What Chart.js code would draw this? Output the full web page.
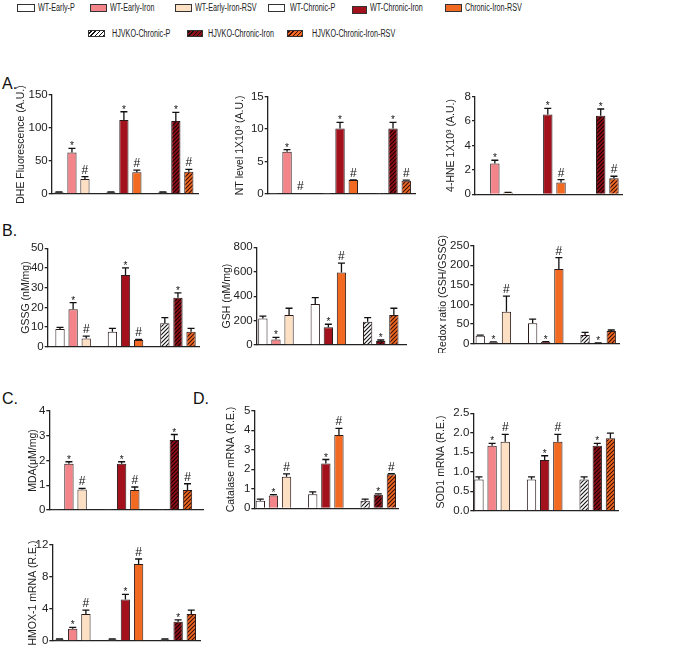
<!DOCTYPE html>
<html>
<head>
<meta charset="utf-8">
<script src="https://cdn.jsdelivr.net/npm/chart.js@4/dist/chart.umd.min.js"></script>
<style>
body { margin: 0; background: #fff; width: 685px; height: 650px; position: relative; overflow: hidden;
       font-family: "Liberation Sans", Arial, sans-serif; }
canvas { position: absolute; }
.lgbox { position: absolute; border: 1px solid #333; box-sizing: border-box; }
.lgtxt { position: absolute; font-size: 10px; line-height: 10px; color: #222; white-space: nowrap;
         transform: scaleX(0.72); transform-origin: left top; }
.plab { position: absolute; font-size: 16px; line-height: 16px; color: #111; }
</style>
</head>
<body>
<div class="plab" style="left:2px;top:76px">A.</div>
<div class="plab" style="left:2px;top:223px">B.</div>
<div class="plab" style="left:2px;top:391px">C.</div>
<div class="plab" style="left:193px;top:391px">D.</div>
<div id="legend"></div>

<script>
// groups in the order they are drawn, and their x slots (gaps at 3 and 7)
const groups = ['WT-Early-P', 'WT-Early-Iron', 'WT-Early-Iron-RSV', 'WT-Chronic-P', 'WT-Chronic-Iron',
                'Chronic-Iron-RSV', 'HJVKO-Chronic-P', 'HJVKO-Chronic-Iron', 'HJVKO-Chronic-Iron-RSV'];
const slots = [0, 1, 2, 4, 5, 6, 8, 9, 10];

const dheMean = [2.5, 63, 22.7, 2.5, 112, 32.8, 2.5, 110.6, 33.8];
const dheErr  = [0.5, 6, 3.5, 0.5, 12.6, 3.5, 0.5, 13, 3.6];
const dheMark = ['', '*', '#', '', '*', '#', '', '*', '#'];
const dheTicks = [0, 50, 100, 150];

const ntMean = [0.03, 6.5, 0.1, 0.03, 10.1, 2.14, 0.03, 10.1, 2.04];
const ntErr  = [0, 0.35, 0, 0, 0.95, 0.05, 0, 0.95, 0.1];
const ntMark = ['', '*', '#', '', '*', '#', '', '*', '#'];
const ntTicks = [0, 5, 10, 15];

const hneMean = [0.05, 2.52, 0.14, 0.05, 6.55, 0.96, 0.05, 6.44, 1.31];
const hneErr  = [0, 0.27, 0.02, 0, 0.5, 0.25, 0, 0.55, 0.17];
const hneMark = ['', '*', '', '', '*', '#', '', '*', '#'];
const hneTicks = [0, 2, 4, 6, 8];

const gssgMean = [9.0, 19.0, 4.2, 7.6, 36.4, 3.4, 11.9, 24.9, 7.6];
const gssgErr  = [0.8, 3.4, 1.2, 1.7, 3.7, 0.3, 2.9, 2.5, 1.7];
const gssgMark = ['', '*', '#', '', '*', '#', '', '*', ''];
const gssgTicks = [0, 10, 20, 30, 40, 50];

const gshMean = [218, 46, 246, 336, 145, 593, 191, 33, 246];
const gshErr  = [19, 17, 55, 52, 25, 77, 33, 8, 55];
const gshMark = ['', '*', '', '', '*', '#', '', '*', ''];
const gshTicks = [0, 200, 400, 600, 800];

const redoxMean = [20.4, 3.4, 81.6, 51.9, 4.3, 190.5, 22, 1.7, 32.3];
const redoxErr  = [1.7, 1.5, 40, 11, 1, 29, 7, 0.5, 2.6];
const redoxMark = ['', '*', '#', '', '*', '#', '', '*', ''];
const redoxTicks = [0, 50, 100, 150, 200, 250];

const mdaMean = [0.02, 1.87, 0.83, 0.02, 1.87, 0.81, 0.02, 2.83, 0.81];
const mdaErr  = [0, 0.08, 0.04, 0, 0.08, 0.12, 0, 0.22, 0.25];
const mdaMark = ['', '*', '#', '', '*', '#', '', '*', '#'];
const mdaTicks = [0, 1, 2, 3, 4];

const catMean = [0.39, 0.65, 1.62, 0.72, 2.3, 3.75, 0.39, 0.7, 1.74];
const catErr  = [0.08, 0.05, 0.14, 0.12, 0.2, 0.34, 0.08, 0.04, 0.04];
const catMark = ['', '*', '#', '', '*', '#', '', '*', '#'];
const catTicks = [0, 1, 2, 3, 4, 5];

const sodMean = [0.8, 1.67, 1.77, 0.8, 1.3, 1.77, 0.8, 1.67, 1.86];
const sodErr  = [0.07, 0.06, 0.19, 0.07, 0.11, 0.19, 0.07, 0.06, 0.13];
const sodMark = ['', '*', '#', '', '*', '#', '', '*', ''];
const sodTicks = [0, 0.5, 1.0, 1.5, 2.0, 2.5];

const hmoxMean = [0.2, 1.54, 3.37, 0.2, 5.2, 9.63, 0.2, 2.42, 3.37];
const hmoxErr  = [0.05, 0.17, 0.5, 0.05, 0.63, 0.62, 0.05, 0.21, 0.5];
const hmoxMark = ['', '*', '#', '', '*', '#', '', '*', ''];
const hmoxTicks = [0, 4, 8, 12];

const FONT = '"Liberation Sans", Arial, sans-serif';
const INK = '#222';

function hatch(base, line) {
    const c = document.createElement('canvas');
    c.width = 4; c.height = 4;
    const g = c.getContext('2d');
    g.fillStyle = base; g.fillRect(0, 0, 4, 4);
    g.strokeStyle = line; g.lineWidth = 1.1;
    g.beginPath();
    g.moveTo(-1, 5); g.lineTo(5, -1);
    g.moveTo(-1, 1); g.lineTo(1, -1);
    g.moveTo(3, 5); g.lineTo(5, 3);
    g.stroke();
    return g.createPattern(c, 'repeat');
}

const PINK = '#f3848a', PEACH = '#fde0c4', DRED = '#a3121c', ORANGE = '#f26a22';
const fills = ['#ffffff', PINK, PEACH, '#ffffff', DRED, ORANGE,
               hatch('#ffffff', '#111'), hatch('#8e0f17', '#1a0000'), hatch(ORANGE, '#3a0d00')];

// legend (HTML)
const legendCss = ['#fff', PINK, PEACH, '#fff', DRED, ORANGE,
    'repeating-linear-gradient(-45deg,#111 0 1px,#fff 1px 3px)',
    'repeating-linear-gradient(-45deg,#111 0 1px,#8e0f17 1px 3px)',
    'repeating-linear-gradient(-45deg,#3a0d00 0 1px,#f26a22 1px 3px)'];
const legendPos = [[17, 4, 18, 38], [90, 4, 17, 110], [175, 4, 17, 195], [268, 4, 17, 290], [352, 6, 15, 370],
                   [445, 4, 17, 465], [88, 30, 17, 112], [187, 30, 16, 208], [287, 30, 16, 312]];
const lg = document.getElementById('legend');
groups.forEach((g, i) => {
    const [bx, by, bw, tx] = legendPos[i];
    const row2 = i >= 6;
    const b = document.createElement('div');
    b.className = 'lgbox';
    b.style.cssText = `left:${bx}px;top:${by}px;width:${bw}px;height:${row2 ? 7 : 8}px;background:${legendCss[i]}`;
    lg.appendChild(b);
    const t = document.createElement('div');
    t.className = 'lgtxt';
    t.textContent = g;
    t.style.cssText = `left:${tx}px;top:${row2 ? 29 : 3}px`;
    lg.appendChild(t);
});

const errMarks = {
    id: 'errMarks',
    afterDatasetsDraw(chart, args, opts) {
        const { ctx, scales: { x, y } } = chart;
        const data = chart.data.datasets[0].data;
        ctx.save();
        ctx.strokeStyle = '#111';
        ctx.fillStyle = '#111';
        ctx.lineWidth = 1.3;
        ctx.textAlign = 'center';
        ctx.textBaseline = 'alphabetic';
        data.forEach((pt, i) => {
            const px = x.getPixelForValue(pt.x);
            const top = y.getPixelForValue(pt.y + opts.err[i]);
            if (opts.err[i] > 0) {
                ctx.beginPath();
                ctx.moveTo(px, y.getPixelForValue(pt.y));
                ctx.lineTo(px, top);
                ctx.moveTo(px - 3.5, top);
                ctx.lineTo(px + 3.5, top);
                ctx.stroke();
            }
            const m = opts.mark[i];
            if (m === '*') {
                ctx.font = `10px ${FONT}`;
                ctx.fillText('*', px, top + 1);
            } else if (m === '#') {
                ctx.font = `12px ${FONT}`;
                ctx.fillText('#', px, top - 3);
            }
        });
        ctx.restore();
    }
};

function panel(p, mean, err, mark, ticks, title, decimals) {
    const canvasLeft = Math.round(p.titleX - 6.3);
    const canvasTop = Math.round(p.top - 12);
    const width = Math.ceil(p.end - canvasLeft + 5);
    const height = Math.ceil(p.zero - canvasTop + 9);
    const cv = document.createElement('canvas');
    cv.width = width; cv.height = height;
    cv.style.left = canvasLeft + 'px';
    cv.style.top = canvasTop + 'px';
    cv.style.width = width + 'px';
    cv.style.height = height + 'px';
    document.body.appendChild(cv);

    new Chart(cv, {
        type: 'bar',
        data: {
            datasets: [{
                data: mean.map((v, i) => ({ x: slots[i], y: v })),
                backgroundColor: fills,
                borderColor: '#2a1a1a',
                borderWidth: 1,
                barPercentage: 0.71,
                categoryPercentage: 1
            }]
        },
        options: {
            responsive: false,
            animation: false,
            layout: { padding: { left: 0, top: p.top - canvasTop, right: width - (p.end - canvasLeft),
                                 bottom: height - (p.zero - canvasTop) } },
            plugins: { legend: { display: false }, tooltip: { enabled: false },
                       errMarks: { err, mark } },
            scales: {
                x: {
                    type: 'linear', offset: false, min: p.xMin, max: p.xMax,
                    ticks: { display: false }, grid: { display: false },
                    border: { color: INK, width: 1.3 },
                    afterFit: s => { s.height = 0; }
                },
                y: {
                    min: 0, max: ticks[ticks.length - 1],
                    afterBuildTicks: s => { s.ticks = ticks.map(v => ({ value: v })); },
                    ticks: { color: INK, font: { family: FONT, size: 11.5 }, padding: 1,
                             callback: v => decimals ? v.toFixed(decimals) : String(v) },
                    grid: { drawOnChartArea: false, drawTicks: true, tickLength: 3, color: INK, lineWidth: 1.3 },
                    border: { color: INK, width: 1.3 },
                    title: { display: true, text: title, color: INK, padding: 0,
                             font: { family: FONT, size: 10.5 } },
                    afterFit: s => { s.width = p.axisX - canvasLeft; }
                }
            }
        },
        plugins: [errMarks]
    });
}

panel({ axisX: 51.7, top: 95, zero: 194, end: 198.3, xMin: -0.56, xMax: 10.73, titleX: 21.5 },
      dheMean, dheErr, dheMark, dheTicks, 'DHE Fluorescence (A.U.)', 0);
panel({ axisX: 267.7, top: 96.7, zero: 194, end: 415, xMin: -0.46, xMax: 10.66, titleX: 240 },
      ntMean, ntErr, ntMark, ntTicks, 'NT level 1X10\u00b3 (A.U.)', 0);
panel({ axisX: 475, top: 96.7, zero: 194.3, end: 622.3, xMin: -0.5, xMax: 10.63, titleX: 451 },
      hneMean, hneErr, hneMark, hneTicks, '4-HNE 1X10\u00b3 (A.U.)', 0);
panel({ axisX: 47.7, top: 248.3, zero: 346.7, end: 199.3, xMin: -0.94, xMax: 10.63, titleX: 26.5 },
      gssgMean, gssgErr, gssgMark, gssgTicks, 'GSSG (nM/mg)', 0);
panel({ axisX: 256.7, top: 247.3, zero: 345, end: 406.7, xMin: -0.47, xMax: 10.98, titleX: 227 },
      gshMean, gshErr, gshMark, gshTicks, 'GSH (nM/mg)', 0);
panel({ axisX: 473.3, top: 245.7, zero: 343.7, end: 619, xMin: -0.53, xMax: 10.59, titleX: 443 },
      redoxMean, redoxErr, redoxMark, redoxTicks, 'Redox ratio (GSH/GSSG)', 0);
panel({ axisX: 49.3, top: 411, zero: 510, end: 203.3, xMin: -0.49, xMax: 11.2, titleX: 33 },
      mdaMean, mdaErr, mdaMark, mdaTicks, 'MDA(\u03bcM/mg)', 0);
panel({ axisX: 254.3, top: 410.7, zero: 508.3, end: 398.3, xMin: -0.46, xMax: 10.53, titleX: 231 },
      catMean, catErr, catMark, catTicks, 'Catalase mRNA (R.E.)', 0);
panel({ axisX: 473.3, top: 413.3, zero: 510.7, end: 618.3, xMin: -0.43, xMax: 10.6, titleX: 441 },
      sodMean, sodErr, sodMark, sodTicks, 'SOD1 mRNA (R.E.)', 1);
panel({ axisX: 52.3, top: 545, zero: 641, end: 200, xMin: -0.55, xMax: 10.66, titleX: 33 },
      hmoxMean, hmoxErr, hmoxMark, hmoxTicks, 'HMOX-1 mRNA (R.E.)', 0);
</script>
</body>
</html>
